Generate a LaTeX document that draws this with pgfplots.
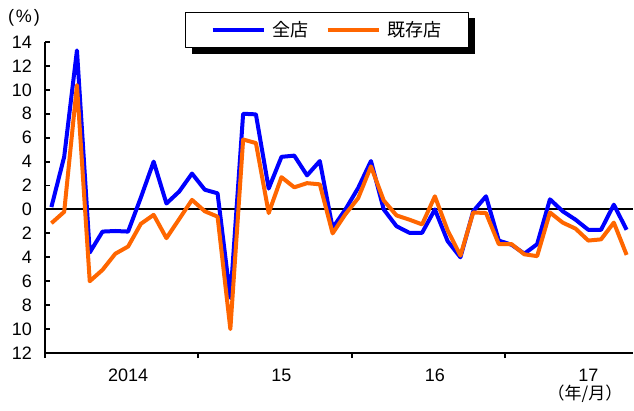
\documentclass[border=0pt]{standalone}
\usepackage{pgfplots}
\pgfplotsset{compat=1.18}
\usepackage{pgfplotstable}
\usepackage{fontspec}
\setmainfont{Liberation Sans}
\newfontfamily\cjk{Noto Sans CJK JP}
\definecolor{cblue}{RGB}{0,0,255}
\definecolor{corange}{RGB}{255,102,0}
\pgfplotstableread{
x all exist
0 0.2 -1.15
1 4.4 -0.2
2 13.3 10.4
3 -3.6 -6.0
4 -1.85 -5.05
5 -1.8 -3.7
6 -1.85 -3.1
7 1.0 -1.2
8 4.0 -0.45
9 0.5 -2.4
10 1.5 -0.8
11 3.0 0.8
12 1.65 -0.15
13 1.35 -0.6
14 -7.4 -10.0
15 8.0 5.85
16 7.95 5.55
17 1.75 -0.3
18 4.4 2.7
19 4.5 1.85
20 2.85 2.2
21 4.05 2.1
22 -1.55 -2.0
23 0.0 -0.4
24 1.8 0.95
25 4.05 3.6
26 0.0 0.75
27 -1.4 -0.5
28 -1.95 -0.85
29 -1.95 -1.25
30 0.0 1.1
31 -2.65 -1.75
32 -4.0 -3.85
33 -0.15 -0.25
34 1.1 -0.3
35 -2.6 -2.9
36 -2.95 -2.9
37 -3.7 -3.75
38 -2.9 -3.9
39 0.85 -0.25
40 -0.15 -1.1
41 -0.85 -1.6
42 -1.7 -2.6
43 -1.7 -2.5
44 0.4 -1.1
45 -1.7 -3.8
}\datatable
\begin{document}
\begin{tikzpicture}[x=1bp,y=1bp]
\path[use as bounding box] (0,0) rectangle (634,410);
\fill[black] (192,356) rectangle (475,392);
\begin{axis}[
  at={(45bp,57bp)}, anchor=south west,
  scale only axis, width=588bp, height=311bp,
  xmin=-0.5, xmax=45.5, ymin=-12, ymax=14,
  axis x line*=bottom, axis y line*=left,
  axis line style={line width=2bp, black},
  tick align=inside,
  major tick length=5bp,
  tick style={line width=1.8bp, black},
  ytick={-12,-10,...,14},
  yticklabels={12,10,8,6,4,2,0,2,4,6,8,10,12,14},
  yticklabel style={anchor=east, inner sep=0pt, xshift=-13bp},
  xtick={-0.5,11.5,23.5,35.5},
  xticklabels={},
  x tick style={yshift=-5bp},
  extra x ticks={6,18,30,42},
  extra x tick labels={2014,15,16,17},
  extra x tick style={major tick length=0pt, xticklabel style={anchor=north, inner sep=0pt, yshift=-16bp}},
  ticklabel style={font=\fontsize{18bp}{20bp}\selectfont},
  /pgf/number format/assume math mode=true,
  legend columns=2,
  legend style={at={(0.4796,1.039)}, anchor=center, draw=black, line width=1.2bp, fill=white,
    font=\cjk\fontsize{18bp}{20bp}\selectfont,
    inner xsep=25bp, inner ysep=6bp,
    nodes={inner xsep=2bp, inner ysep=3bp},
    /tikz/every odd column/.append style={column sep=5bp},
    /tikz/every even column/.append style={column sep=15bp}},
  legend image code/.code={\draw[#1, line width=4bp] (0bp,0bp) -- (51bp,0bp);},
  line join=round,
]
\addplot[black, line width=2bp, forget plot] coordinates {(-0.5,0) (45.5,0)};
\addplot[cblue, line width=4bp] table[x=x, y=all] {\datatable};
\addlegendentry{全店}
\addplot[corange, line width=4bp] table[x=x, y=exist] {\datatable};
\addlegendentry{既存店}
\end{axis}
\node[font=\fontsize{18bp}{20bp}\selectfont] at (24,392) {(\hspace{2bp}\%\hspace{2bp})};
\node[font=\cjk\fontsize{17bp}{19bp}\selectfont] at (585,16) {（年/月）};
\end{tikzpicture}
\end{document}
